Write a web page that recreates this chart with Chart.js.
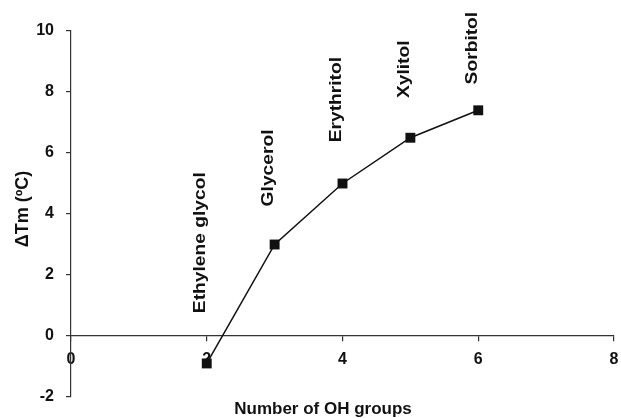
<!DOCTYPE html>
<html>
<head>
<meta charset="utf-8">
<script src="https://cdn.jsdelivr.net/npm/chart.js@4/dist/chart.umd.min.js"></script>
<style>
  html, body { margin: 0; padding: 0; background: #fff; }
  #wrap { width: 621px; height: 418px; position: relative; }
</style>
</head>
<body>
<div id="wrap"><canvas id="c"></canvas></div>
<script>
// Number of hydroxyl groups of each polyol
const ohGroups = [2, 3, 4, 5, 6];
// Shift in melting temperature, ΔTm (ºC)
const deltaTm = [-0.9, 3.0, 5.0, 6.5, 7.4];
// Compound names written above each point
const compounds = ['Ethylene glycol', 'Glycerol', 'Erythritol', 'Xylitol', 'Sorbitol'];
// Value (ΔTm) at which each name begins
const nameStart = [0.75, 4.25, 6.35, 7.8, 8.25];
// Axis tick values
const xTicks = [0, 2, 4, 6, 8];
const yTicks = [-2, 0, 2, 4, 6, 8, 10];

const INK = '#111';
const FONT = '"Liberation Sans", Arial, sans-serif';

const textPlugin = {
  id: 'polyolText',
  afterDatasetsDraw(chart) {
    const { ctx, scales } = chart;
    const xs = scales.x, ys = scales.y;
    ctx.save();
    ctx.fillStyle = INK;
    // compound names, reading upward
    ctx.font = 'bold 17px ' + FONT;
    ctx.textBaseline = 'middle';
    ctx.textAlign = 'left';
    compounds.forEach((name, i) => {
      const px = xs.getPixelForValue(ohGroups[i]) - 6;
      const py = ys.getPixelForValue(nameStart[i]);
      ctx.save();
      ctx.translate(px, py);
      ctx.scale(1, 1.13);
      ctx.rotate(-Math.PI / 2);
      ctx.fillText(name, 0, 0);
      ctx.restore();
    });
    // axis titles
    ctx.textAlign = 'center';
    ctx.font = 'bold 17px ' + FONT;
    ctx.fillText('Number of OH groups', 323, 409);
    ctx.save();
    ctx.translate(23, 209);
    ctx.rotate(-Math.PI / 2);
    ctx.font = 'bold 18px ' + FONT;
    ctx.fillText('\u0394Tm (\u00baC)', 0, 0);
    ctx.restore();
    ctx.restore();
  }
};

new Chart(document.getElementById('c'), {
  type: 'line',
  data: {
    datasets: [{
      data: ohGroups.map((x, i) => ({ x: x, y: deltaTm[i] })),
      borderColor: INK,
      borderWidth: 1.5,
      backgroundColor: INK,
      pointStyle: 'rect',
      pointRadius: 7,
      pointHoverRadius: 7,
      pointBorderWidth: 0,
      tension: 0,
      clip: false
    }]
  },
  options: {
    responsive: true,
    maintainAspectRatio: false,
    animation: false,
    layout: { padding: { top: 31, right: 6, bottom: 21, left: 0 } },
    plugins: { legend: { display: false }, tooltip: { enabled: false } },
    scales: {
      x: {
        type: 'linear',
        position: { y: 0 },
        min: 0, max: 8,
        afterBuildTicks(s) { s.ticks = xTicks.map(v => ({ value: v })); },
        afterFit(s) { s.paddingLeft = 0; s.paddingRight = 0; },
        grid: { display: true, drawOnChartArea: false, drawTicks: true, tickLength: 5, color: '#333', lineWidth: 1.2 },
        border: { display: true, color: '#333', width: 1.2 },
        ticks: { color: INK, font: { family: FONT, size: 16, weight: 'bold' }, padding: 9, maxRotation: 0 }
      },
      y: {
        type: 'linear',
        min: -2, max: 10,
        afterBuildTicks(s) { s.ticks = yTicks.map(v => ({ value: v })); },
        afterFit(s) { s.width = 71; s.paddingTop = 0; s.paddingBottom = 0; },
        grid: { display: true, drawOnChartArea: false, drawTicks: true, tickLength: 5, color: '#333', lineWidth: 1.2 },
        border: { display: true, color: '#333', width: 1.2 },
        ticks: { color: INK, font: { family: FONT, size: 16, weight: 'bold' }, padding: 12 }
      }
    }
  },
  plugins: [textPlugin]
});
</script>
</body>
</html>
